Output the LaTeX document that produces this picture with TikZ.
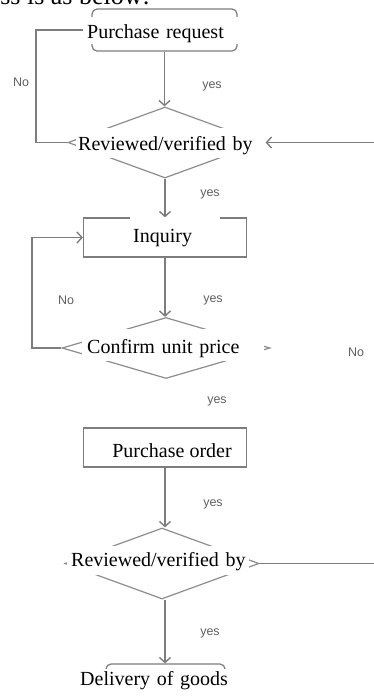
\documentclass[tikz,border=0pt]{standalone}
\usepackage{fontspec}
\setmainfont{Liberation Serif}
\newfontfamily\lblfont{Liberation Sans}
\usetikzlibrary{shapes.geometric,arrows.meta}
\definecolor{linegray}{RGB}{125,125,125}
\definecolor{diagray}{RGB}{140,140,140}
\definecolor{yngray}{RGB}{95,95,95}
\begin{document}
\begin{tikzpicture}[x=1pt,y=-1pt,
  line/.style={draw=linegray, line width=1.4pt},
  arr/.style={line, -{Straight Barb[length=5pt,width=11pt]}},
  boxr/.style={draw=linegray, line width=1.2pt, rounded corners=5pt, minimum width=145pt, minimum height=42pt, inner sep=0pt},
  boxs/.style={draw=linegray, line width=1.2pt, minimum width=163pt, minimum height=39pt, inner sep=0pt},
  dia/.style={diamond, draw=diagray, line width=1.2pt, inner sep=0pt},
  lbl/.style={font=\fontsize{20}{22}\selectfont, fill=white, inner ysep=0pt},
  lblw/.style={lbl, anchor=base west, align=left, inner xsep=0pt},
  yn/.style={font=\lblfont\fontsize{12.5}{14}\selectfont, text=yngray, inner sep=0pt},
]
\useasboundingbox (0,0) rectangle (374,697);
\clip (0,0) rectangle (374,697);

% top text (cut off)
\node[font=\fontsize{26}{28}\selectfont, anchor=base east, inner sep=0pt] (top) at (150,4) {ss is as below:};

% shapes
\node[boxr] (pr) at (164.5,30) {};
\node[dia, minimum width=194pt, minimum height=71pt] (d1) at (165,142.5) {};
\node[boxs] (inq) at (165,237.5) {};
\node[dia, minimum width=208pt, minimum height=61pt] (d2) at (166,348) {};
\node[boxs] (po) at (165,447.5) {};
\node[dia, minimum width=194pt, minimum height=71pt] (d3) at (162,563.5) {};
\node[boxr, minimum width=119pt, minimum height=60pt] (dg) at (165.5,694) {};

\coordinate (lx1) at (36,0);
\coordinate (lx2) at (32,0);
\coordinate (r1) at (374,142.5);
\coordinate (r3) at (374,563.5);

% connectors
\draw[arr] (pr.south) -- (pr.south |- d1.north);
\draw[arr] (d1.south) -- (d1.south |- inq.north);
\draw[arr] (inq.south) -- (inq.south |- d2.north);
\draw[arr] (po.south) -- (po.south |- d3.north);
\draw[arr] (d3.south -| po.south) -- (po.south |- dg.north);
\draw[arr] (d1.west) -- (d1.west -| lx1) |- (pr.west);
\draw[arr] (d2.west) -- (d2.west -| lx2) |- (inq.west);
\draw[arr] (r1) -- ([xshift=3pt]d1.east);
\draw[line] (d3.east) -- (r3);

% labels
\node[lblw, text width=157pt, text height=21.3pt, text depth=5.7pt] (prt) at (83,38.3) {\hspace*{4pt}Purchase request};
\node[lblw, text width=188pt, text height=22.7pt, text depth=7.3pt] (d1t) at (76,150.7) {\hspace*{2pt}Reviewed/verified by};
\node[lblw, text width=90pt, text height=26pt, text depth=7.3pt] (inqt) at (130,242.7) {\hspace*{3pt}Inquiry};
\node[lblw, text width=182pt, text height=24.3pt, text depth=7.7pt] (d2t) at (82,353.3) {\hspace*{5pt}Confirm unit price};
\node[lbl, anchor=base, inner xsep=1pt, inner ysep=1pt] (pot) at (172,457.3) {Purchase order};
\node[lblw, text width=182pt, text height=20.7pt, text depth=8.3pt] (d3t) at (67,566.7) {\hspace*{4pt}Reviewed/verified by};
\node[lblw, text width=151pt, text height=16pt, text depth=14pt] (dgt) at (78,685) {\hspace*{2pt}Delivery of goods};

% yes / No
\node[yn] (y1) at (212,86) {yes};
\node[yn] (y2) at (210,194) {yes};
\node[yn] (y3) at (213,300) {yes};
\node[yn] (y4) at (217,401) {yes};
\node[yn] (y5) at (213,504) {yes};
\node[yn] (y6) at (210,633) {yes};
\node[yn] (n1) at (21,82) {No};
\node[yn] (n2) at (66,300) {No};
\node[yn] (n3) at (356,352) {No};
\end{tikzpicture}
\end{document}
